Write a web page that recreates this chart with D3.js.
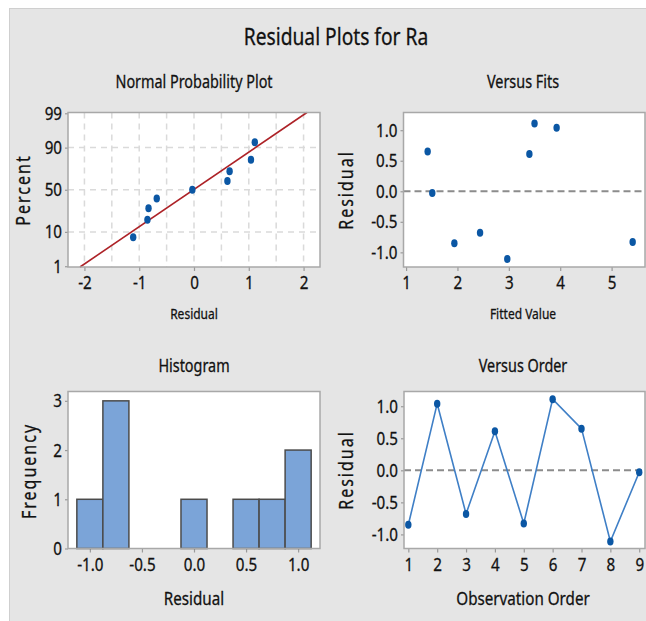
<!DOCTYPE html>
<html>
<head>
<meta charset="utf-8">
<script src="https://cdn.jsdelivr.net/npm/d3@7"></script>
<style>
  body { margin: 0; background: #fff; }
  svg { display: block; font-family: "Noto Sans", sans-serif; }
  text { stroke: #111; stroke-width: 0.3; }
</style>
</head>
<body>
<div id="chart"></div>
<script>
// residuals in observation order, and the fitted values they belong to
const residuals = [-0.85, 1.04, -0.68, 0.61, -0.83, 1.11, 0.65, -1.11, -0.03];
const fittedValues = [1.94, 3.93, 2.44, 3.40, 5.41, 3.50, 1.42, 2.97, 1.51];
const observationOrder = [1, 2, 3, 4, 5, 6, 7, 8, 9];

// histogram bins (centres, width 0.25)
const binCenters = [-1.0, -0.75, -0.5, -0.25, 0.0, 0.25, 0.5, 0.75, 1.0];

// tick labels
const percentTicks = [1, 10, 50, 90, 99];
const nppTicks = [-2, -1, 0, 1, 2];
const residTicks = [-1.0, -0.5, 0.0, 0.5, 1.0];
const fitTicks = [1, 2, 3, 4, 5];
const freqTicks = [0, 1, 2, 3];

const W = 646, H = 621;
const SX = 0.8; // text is squeezed horizontally like the original
const ink = "#111";

const svg = d3.select("#chart").append("svg")
  .attr("width", W)
  .attr("height", H);

// grey backdrop
svg.append("rect")
  .attr("x", 9.5).attr("y", 8.5)
  .attr("width", W).attr("height", H)
  .attr("fill", "#e5e5e5")
  .attr("stroke", "#cfcfcf");

function addText(str, x, y, size, opt = {}) {
  return svg.append("text")
    .attr("transform", `translate(${x},${y}) rotate(${opt.rotate || 0}) scale(${SX},1)`)
    .attr("text-anchor", "middle")
    .attr("font-size", size)
    .attr("letter-spacing", opt.spacing || 0)
    .attr("fill", ink)
    .text(str);
}

// inverse normal cdf (Acklam)
function normInv(p) {
  const a = [-39.6968302866538, 220.946098424521, -275.928510446969, 138.357751867269, -30.6647980661472, 2.50662827745924];
  const b = [-54.4760987982241, 161.585836858041, -155.698979859887, 66.8013118877197, -13.2806815528857];
  const c = [-0.00778489400243029, -0.322396458041136, -2.40075827716184, -2.54973253934373, 4.37466414146497, 2.93816398269878];
  const d = [0.00778469570904146, 0.32246712907004, 2.445134137143, 3.75440866190742];
  const pl = 0.02425;
  if (p < pl || p > 1 - pl) {
    const q = Math.sqrt(-2 * Math.log(p < pl ? p : 1 - p));
    const v = (((((c[0] * q + c[1]) * q + c[2]) * q + c[3]) * q + c[4]) * q + c[5]) /
      ((((d[0] * q + d[1]) * q + d[2]) * q + d[3]) * q + 1);
    return p < pl ? v : -v;
  }
  const q = p - 0.5, r = q * q;
  return (((((a[0] * r + a[1]) * r + a[2]) * r + a[3]) * r + a[4]) * r + a[5]) * q /
    (((((b[0] * r + b[1]) * r + b[2]) * r + b[3]) * r + b[4]) * r + 1);
}

// sets up one plot frame with axes; returns the inner group
function makePanel(box, x, y, xTicks, yTicks, xFmt, yFmt) {
  x.range([0, box.w]);
  y.range([box.h, 0]);

  const g = svg.append("g").attr("transform", `translate(${box.x},${box.y})`);
  g.append("rect")
    .attr("width", box.w).attr("height", box.h)
    .attr("fill", "#fff");

  const styleAxis = sel => {
    sel.select(".domain").remove();
    sel.selectAll(".tick line").attr("stroke", "#9a9a9a").attr("stroke-width", 1.2);
    sel.selectAll(".tick text")
      .attr("fill", ink)
      .attr("font-size", 19)
      .attr("font-family", "Noto Sans, sans-serif")
      .each(function () {
        const t = d3.select(this);
        const tx = +t.attr("x") || 0;
        t.attr("x", tx / SX).attr("transform", `scale(${SX},1)`);
      });
  };

  g.append("g")
    .attr("transform", `translate(0,${box.h})`)
    .call(d3.axisBottom(x).tickValues(xTicks).tickFormat(xFmt).tickSize(4).tickPadding(5))
    .call(styleAxis);

  g.append("g")
    .call(d3.axisLeft(y).tickValues(yTicks).tickFormat(yFmt).tickSize(3).tickPadding(3))
    .call(styleAxis);

  g.plot = g.append("g");
  g.border = () => g.append("rect")
    .attr("width", box.w).attr("height", box.h)
    .attr("fill", "none")
    .attr("stroke", "#a8a8a8")
    .attr("stroke-width", 1.5);
  return g;
}

const fmt1 = d => d.toFixed(1);
const dotColor = "#0b57a4";

function dots(g, data, cx, cy) {
  g.selectAll(".dot")
    .data(data)
    .join("ellipse")
    .attr("class", "dot")
    .attr("cx", cx)
    .attr("cy", cy)
    .attr("rx", 3.2)
    .attr("ry", 4)
    .attr("fill", dotColor);
}

function zeroLine(g, x, y) {
  g.append("line")
    .attr("x1", x.range()[0]).attr("x2", x.range()[1])
    .attr("y1", y(0)).attr("y2", y(0))
    .attr("stroke", "#8c8c8c")
    .attr("stroke-width", 2)
    .attr("stroke-dasharray", "7,4");
}

// ---------- title ----------
addText("Residual Plots for Ra", 336, 45, 24);

// ---------- normal probability plot ----------
{
  const box = { x: 68, y: 112.5, w: 252, h: 154.5 };
  const x = d3.scaleLinear().domain([-2.3, 2.3]);
  const y = d3.scaleLinear().domain([-2.35, 2.35]);
  const zTicks = percentTicks.map(p => normInv(p / 100));
  const g = makePanel(box, x, y, nppTicks, zTicks, d => String(d), (d, i) => percentTicks[i]);

  // dashed grid
  g.plot.selectAll(".vgrid")
    .data(d3.range(-2, 2.01, 0.5))
    .join("line")
    .attr("x1", d => x(d)).attr("x2", d => x(d))
    .attr("y1", 0).attr("y2", box.h)
    .attr("stroke", "#dadada").attr("stroke-width", 1.5).attr("stroke-dasharray", "6,5");
  g.plot.selectAll(".hgrid")
    .data(zTicks.slice(1, 4))
    .join("line")
    .attr("x1", 0).attr("x2", box.w)
    .attr("y1", d => y(d)).attr("y2", d => y(d))
    .attr("stroke", "#dadada").attr("stroke-width", 1.5).attr("stroke-dasharray", "6,5");

  // fitted normal line
  const mu = d3.mean(residuals), sd = d3.deviation(residuals);
  const zs = y.domain();
  g.plot.append("path")
    .datum(zs)
    .attr("d", d3.line().x(z => x(mu + sd * z)).y(z => y(z)))
    .attr("stroke", "#ad2227")
    .attr("stroke-width", 1.6)
    .attr("fill", "none");

  const n = residuals.length;
  const ranked = residuals.slice().sort(d3.ascending)
    .map((r, i) => ({ r, z: normInv((i + 1 - 0.3) / (n + 0.4)) }));
  dots(g.plot, ranked, d => x(d.r), d => y(d.z));
  g.border();

  addText("Normal Probability Plot", 194, 88, 18);
  addText("Residual", 194, 319, 15);
  addText("Percent", 30, 190, 20, { rotate: -90, spacing: 2.5 });
}

// ---------- versus fits ----------
{
  const box = { x: 403.5, y: 112.5, w: 241.5, h: 154.5 };
  const x = d3.scaleLinear().domain([0.95, 5.65]);
  const y = d3.scaleLinear().domain([-1.24, 1.29]);
  const g = makePanel(box, x, y, fitTicks, residTicks, d => String(d), fmt1);
  zeroLine(g.plot, x, y);
  dots(g.plot, residuals.map((r, i) => ({ r, f: fittedValues[i] })), d => x(d.f), d => y(d.r));
  g.border();

  addText("Versus Fits", 523, 88, 18);
  addText("Fitted Value", 523, 319, 15);
  addText("Residual", 353, 190, 20, { rotate: -90, spacing: 2.5 });
}

// ---------- histogram ----------
{
  const box = { x: 68, y: 391.5, w: 252, h: 157 };
  const x = d3.scaleLinear().domain([-1.21, 1.21]);
  const y = d3.scaleLinear().domain([0, 3.19]);
  const g = makePanel(box, x, y, residTicks, freqTicks, fmt1, d => String(d));

  const half = 0.125;
  const bins = binCenters.map(c => ({
    c,
    count: residuals.filter(r => r >= c - half && r < c + half).length
  }));
  g.plot.selectAll(".bar")
    .data(bins)
    .join("rect")
    .attr("class", "bar")
    .attr("x", d => x(d.c - half))
    .attr("width", d => x(d.c + half) - x(d.c - half))
    .attr("y", d => y(d.count))
    .attr("height", d => y(0) - y(d.count))
    .attr("fill", "#7ba4d8")
    .attr("stroke", "#4b4b4b")
    .attr("stroke-width", 1.5);
  g.border();

  addText("Histogram", 194, 372, 18);
  addText("Residual", 194, 605, 19);
  addText("Frequency", 36, 471, 20, { rotate: -90, spacing: 2.5 });
}

// ---------- versus order ----------
{
  const box = { x: 404, y: 391.5, w: 241, h: 157 };
  const x = d3.scaleLinear().domain([0.85, 9.2]);
  const y = d3.scaleLinear().domain([-1.22, 1.23]);
  const g = makePanel(box, x, y, observationOrder, residTicks, d => String(d), fmt1);
  zeroLine(g.plot, x, y);

  const pts = residuals.map((r, i) => ({ r, o: observationOrder[i] }));
  g.plot.append("path")
    .datum(pts)
    .attr("d", d3.line().x(d => x(d.o)).y(d => y(d.r)))
    .attr("stroke", "#3f7fc6")
    .attr("stroke-width", 1.6)
    .attr("fill", "none");
  dots(g.plot, pts, d => x(d.o), d => y(d.r));
  g.border();

  addText("Versus Order", 523, 372, 18);
  addText("Observation Order", 523, 605, 19);
  addText("Residual", 353, 470, 20, { rotate: -90, spacing: 2.5 });
}
</script>
</body>
</html>
